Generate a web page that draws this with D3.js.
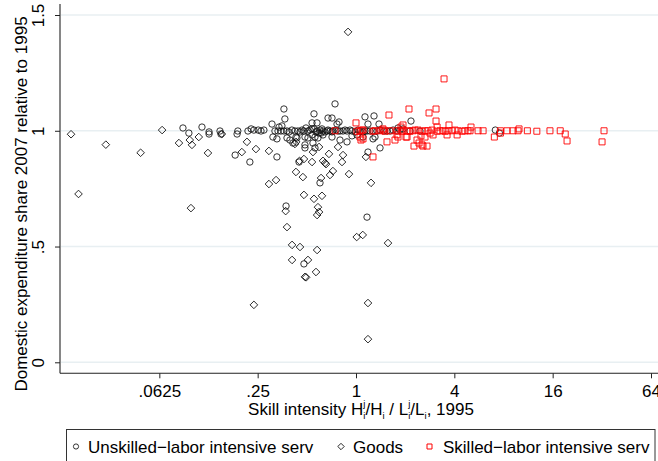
<!DOCTYPE html>
<html>
<head>
<meta charset="utf-8">
<script src="https://cdn.jsdelivr.net/npm/d3@7"></script>
<style>
  body { margin: 0; background: #fff; }
  svg { display: block; }
  text { font-family: "Liberation Sans", Arial, Helvetica, sans-serif; fill: #000; }
</style>
</head>
<body>
<svg id="chart" width="658" height="461"></svg>
<script>
// Axis ticks
const xTicks = [0.0625, 0.25, 1, 4, 16, 64];
const xTickLabels = [".0625", ".25", "1", "4", "16", "64"];
const yTicks = [0, 0.5, 1, 1.5];
const yTickLabels = ["0", ".5", "1", "1.5"];
const seriesNames = ["Unskilled\u2212labor intensive serv", "Goods", "Skilled\u2212labor intensive serv"];

// [skill intensity 1995, domestic expenditure share 2007 / 1995]
const unskilledServ = [
  [0.0872,1.012],[0.0948,0.99],[0.114,1.016],[0.126,0.995],[0.126,0.986],[0.147,0.999],[0.149,0.986],
  [0.182,0.895],[0.187,0.986],[0.189,0.999],[0.218,0.999],[0.224,0.865],[0.228,1.008],[0.237,1.003],
  [0.252,1.003],[0.262,0.999],[0.273,1.003],[0.306,1.029],[0.31,0.973],[0.319,0.999],[0.328,0.887],
  [0.328,0.965],[0.333,0.999],[0.338,1.016],[0.347,0.999],[0.352,1.021],[0.362,1.094],[0.362,0.999],
  [0.367,1.051],[0.373,0.675],[0.378,0.999],[0.378,0.969],[0.389,0.995],[0.394,0.96],[0.405,1.003],
  [0.411,0.947],[0.423,0.999],[0.429,0.973],[0.435,0.969],[0.441,0.999],[0.448,0.865],[0.454,0.995],
  [0.467,1.003],[0.48,0.999],[0.48,0.425],[0.487,0.973],[0.487,0.939],[0.487,0.926],[0.494,1.012],
  [0.508,0.999],[0.508,0.969],[0.523,1.003],[0.538,1.008],[0.538,1.034],[0.538,0.982],[0.545,0.947],
  [0.553,1.008],[0.553,1.073],[0.561,0.973],[0.561,0.926],[0.569,0.995],[0.577,0.999],[0.577,1.034],
  [0.585,0.969],[0.594,0.99],[0.602,1.003],[0.602,0.775],[0.611,0.99],[0.619,1.008],[0.628,0.999],
  [0.628,0.982],[0.646,0.995],[0.665,0.999],[0.674,1.003],[0.674,1.055],[0.693,0.999],[0.713,0.995],
  [0.713,1.055],[0.713,0.973],[0.723,0.999],[0.744,1.116],[0.754,1.003],[0.765,1.029],[0.776,0.999],
  [0.787,1.038],[0.798,0.999],[0.798,0.96],[0.832,0.999],[0.857,1.003],[0.881,0.999],[0.881,0.952],
  [0.919,1.003],[0.945,0.999],[0.945,0.978],[0.986,0.995],[1.014,0.982],[1.029,1.003],[1.058,0.999],
  [1.104,0.995],[1.104,0.973],[1.135,0.999],[1.135,1.06],[1.168,0.999],[1.168,0.627],[1.184,1.029],
  [1.184,0.908],[1.218,0.999],[1.271,0.999],[1.271,0.965],[1.289,1.064],[1.307,0.973],[1.345,0.999],
  [1.383,1.029],[1.403,1.003],[1.403,0.926],[1.484,0.999],[1.548,0.999],[1.615,0.999],[1.686,1.003],
  [1.782,0.999],[1.808,1.012],[1.859,1.003],[1.94,1.008],[2.141,0.999],[2.171,1.042],[2.465,0.999],
  [7.13,1.003],[7.55,0.99]
];

const goods = [
  [0.018,0.985],[0.020,0.727],[0.0294,0.94],[0.048,0.905],[0.065,1.003],[0.0824,0.947],[0.096,0.96],
  [0.099,0.939],[0.109,0.973],[0.124,0.904],[0.0976,0.666],[0.151,0.986],[0.215,0.952],[0.200,0.908],
  [0.244,0.921],[0.293,0.913],[0.293,0.77],[0.324,0.787],[0.371,0.653],[0.378,0.584],[0.429,0.822],
  [0.473,0.80],[0.480,0.723],[0.553,0.706],[0.619,0.719],[0.585,0.67],[0.594,0.649],[0.578,0.636],
  [0.538,0.865],[0.480,0.878],[0.545,0.908],[0.594,0.93],[0.628,0.87],[0.646,0.861],[0.423,0.943],
  [0.611,0.796],[0.693,0.809],[0.906,0.813],[0.821,0.865],[0.833,0.895],[0.655,0.856],[0.683,0.90],
  [1.236,0.775],[1.15,0.887],[1.01,0.541],[1.10,0.55],[1.57,0.515],[0.406,0.507],[0.454,0.498],
  [0.578,0.485],[0.406,0.442],[0.508,0.442],[0.487,0.369],[0.495,0.367],[0.569,0.39],[0.237,0.248],
  [1.184,0.256],[1.184,0.10],[0.894,1.427],[0.776,0.93],[0.43,0.952],[0.451,0.87],[0.722,0.826]
];

const skilledServ = [
  [0.744,1.0],[1.014,0.998],[1.058,1.0],[1.104,1.003],[1.271,0.998],[1.307,1.0],[1.403,1.0],
  [1.463,1.003],[1.505,0.998],[1.615,1.0],[1.782,1.0],[1.913,0.998],[1.94,1.003],[2.053,1.0],
  [2.141,0.998],[2.234,1.0],[2.397,1.003],[2.536,0.998],[2.646,1.0],[2.761,1.0],[2.92,1.003],
  [3.137,0.998],[3.27,1.0],[3.41,1.0],[3.51,0.998],[3.66,1.0],[3.87,1.0],[4.04,1.003],[4.22,1.0],
  [4.46,0.998],[4.65,1.0],[4.85,1.0],[4.99,1.0],[5.59,1.0],[6.0,1.0],[7.66,1.0],[8.4,1.0],[9.15,1.0],
  [9.82,1.0],[11.2,1.0],[12.8,0.998],[15.4,1.0],[17.8,1.0],[33.0,1.0],
  [3.46,1.224],[2.111,1.094],[3.09,1.094],[1.592,1.068],[2.8,1.077],[3.09,1.042],[1.0,1.034],
  [3.71,1.025],[3.137,1.016],[5.06,1.016],[9.96,1.008],[1.058,0.973],[1.104,0.965],[1.073,0.96],
  [1.271,0.887],[1.548,0.952],[1.733,0.96],[2.024,0.973],[1.782,0.982],[2.265,0.934],[2.431,0.947],
  [2.572,0.934],[2.722,0.934],[2.5,0.978],[2.963,0.982],[3.61,0.982],[4.16,0.982],[7.03,0.973],
  [7.66,0.99],[19.1,0.986],[19.6,0.956],[32.1,0.952],[1.886,1.016],[1.94,1.025],[1.463,1.008],
  [2.297,1.003],[2.363,0.96],[2.646,0.973],[2.84,0.99],[1.808,0.973],[2.053,0.973],[2.536,0.939],
  [1.088,1.003]
];

const svg = d3.select("#chart");
const FONT = 17;

const x = d3.scaleLog().base(2).domain([1 / 64, 64]).range([61, 651]);
const y = d3.scaleLinear().domain([0, 1.5]).range([362.3, 15]);

const plotLeft = 60, plotRight = 658, plotTop = 4, plotBottom = 373.3;

// horizontal grid lines
svg.append("g")
  .selectAll("line")
  .data(yTicks)
  .join("line")
  .attr("x1", plotLeft + 1).attr("x2", plotRight)
  .attr("y1", d => y(d)).attr("y2", d => y(d))
  .attr("stroke", "#e8eff2").attr("stroke-width", 1.6);

// y axis
const yAxis = svg.append("g")
  .attr("transform", `translate(${plotLeft},0)`)
  .call(d3.axisLeft(y).tickValues(yTicks).tickFormat((d, i) => yTickLabels[i]).tickSize(5).tickSizeOuter(0));
yAxis.select(".domain").remove();
yAxis.selectAll(".tick line").attr("stroke", "#222");
yAxis.selectAll(".tick text")
  .attr("transform", "rotate(-90)")
  .attr("x", 0).attr("y", -16).attr("dy", 0)
  .attr("text-anchor", "middle")
  .style("font-size", FONT + "px")
  .style("font-family", "'Liberation Sans', Arial, sans-serif")
  .attr("fill", "#000");

// x axis
const xAxis = svg.append("g")
  .attr("transform", `translate(0,${plotBottom})`)
  .call(d3.axisBottom(x).tickValues(xTicks).tickFormat((d, i) => xTickLabels[i]).tickSize(5).tickSizeOuter(0));
xAxis.select(".domain").remove();
xAxis.selectAll(".tick line").attr("stroke", "#222");
xAxis.selectAll(".tick text")
  .attr("y", 24).attr("dy", 0)
  .style("font-size", FONT + "px")
  .style("font-family", "'Liberation Sans', Arial, sans-serif")
  .attr("fill", "#000");

// axis lines
svg.append("line")
  .attr("x1", plotLeft).attr("x2", plotLeft).attr("y1", plotTop).attr("y2", plotBottom)
  .attr("stroke", "#222").attr("stroke-width", 1.1);
svg.append("line")
  .attr("x1", plotLeft).attr("x2", plotRight).attr("y1", plotBottom).attr("y2", plotBottom)
  .attr("stroke", "#222").attr("stroke-width", 1.1);

// axis titles
svg.append("text")
  .attr("transform", "translate(27,204) rotate(-90)")
  .attr("text-anchor", "middle")
  .style("font-size", FONT + "px")
  .text("Domestic expenditure share 2007 relative to 1995");

// x title with stacked superscript j / subscript i
const xt = svg.append("text")
  .attr("x", 361).attr("y", 415)
  .attr("text-anchor", "middle")
  .style("font-size", FONT + "px");
const small = 9.5;
xt.append("tspan").text("Skill intensity H");
xt.append("tspan").attr("dy", -8).style("font-size", small + "px").text("j");
xt.append("tspan").attr("dx", -2.1).attr("dy", 11.5).style("font-size", small + "px").text("i");
xt.append("tspan").attr("dy", -3.5).text("/H");
xt.append("tspan").attr("dy", 3.5).style("font-size", small + "px").text("i");
xt.append("tspan").attr("dy", -3.5).text(" / L");
xt.append("tspan").attr("dy", -8).style("font-size", small + "px").text("j");
xt.append("tspan").attr("dx", -2.1).attr("dy", 11.5).style("font-size", small + "px").text("i");
xt.append("tspan").attr("dy", -3.5).text("/L");
xt.append("tspan").attr("dy", 3.5).style("font-size", small + "px").text("i");
xt.append("tspan").attr("dy", -3.5).text(", 1995");

// marker shapes
const diamondPath = h => `M0,${-h}L${h},0L0,${h}L${-h},0Z`;
const squarePath = s => `M${-s / 2},${-s / 2}h${s}v${s}h${-s}Z`;

const marks = svg.append("g");

marks.append("g")
  .selectAll("circle")
  .data(unskilledServ)
  .join("circle")
  .attr("cx", d => x(d[0])).attr("cy", d => y(d[1]))
  .attr("r", 3.2)
  .attr("fill", "none").attr("stroke", "#111").attr("stroke-width", 0.85);

marks.append("g")
  .selectAll("path")
  .data(goods)
  .join("path")
  .attr("transform", d => `translate(${x(d[0])},${y(d[1])})`)
  .attr("d", diamondPath(3.8))
  .attr("fill", "none").attr("stroke", "#111").attr("stroke-width", 0.9);

marks.append("g")
  .selectAll("path")
  .data(skilledServ)
  .join("path")
  .attr("transform", d => `translate(${x(d[0])},${y(d[1])})`)
  .attr("d", squarePath(6))
  .attr("fill", "none").attr("stroke", "#ff0000").attr("stroke-width", 1).attr("stroke-opacity", 0.9);

// legend
const legend = svg.append("g");
legend.append("rect")
  .attr("x", 66.5).attr("y", 429.5).attr("width", 588.5).attr("height", 45)
  .attr("fill", "#fff").attr("stroke", "#333").attr("stroke-width", 1);

const legY = 446.5;
legend.append("circle").attr("cx", 76).attr("cy", legY).attr("r", 2.6)
  .attr("fill", "none").attr("stroke", "#111").attr("stroke-width", 0.85);
legend.append("path").attr("transform", `translate(341,${legY})`).attr("d", diamondPath(3.2))
  .attr("fill", "none").attr("stroke", "#111").attr("stroke-width", 0.9);
legend.append("path").attr("transform", `translate(429.5,${legY})`).attr("d", squarePath(5))
  .attr("fill", "none").attr("stroke", "#ff0000").attr("stroke-width", 1);

const legX = [88, 353, 443];
legend.selectAll("text.lab")
  .data(seriesNames)
  .join("text")
  .attr("class", "lab")
  .attr("x", (d, i) => legX[i]).attr("y", 452.5)
  .style("font-size", FONT + "px")
  .text(d => d);
</script>
</body>
</html>
